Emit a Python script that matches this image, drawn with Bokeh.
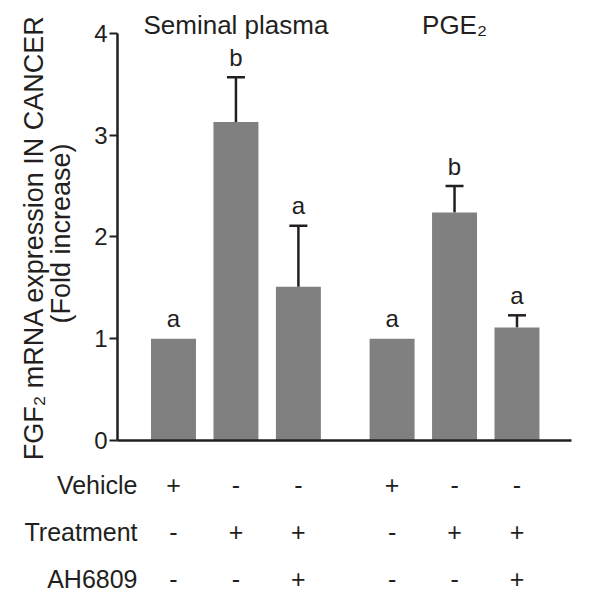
import math
from bokeh.plotting import figure
from bokeh.models import (Range1d, ColumnDataSource, Whisker, FixedTicker, TeeHead,
                          LinearAxis)
from bokeh.core.properties import value
from bokeh.embed import file_html
from bokeh.resources import INLINE

# ---------------- data ----------------
group_names = ["Seminal plasma", "PGE₂"]
row_names = ["Vehicle", "Treatment", "AH6809"]
bar_pos = [1, 2, 3, 4.5, 5.5, 6.5]
fold = [1.0, 3.13, 1.51, 1.0, 2.24, 1.11]
sem = [0.0, 0.44, 0.60, 0.0, 0.26, 0.12]
letters = ["a", "b", "a", "a", "b", "a"]
vehicle = ["+", "-", "-", "+", "-", "-"]
treatment = ["-", "+", "+", "-", "+", "+"]
ah6809 = ["-", "-", "+", "-", "-", "+"]
y_ticks = [0, 1, 2, 3, 4]
y_label_1 = "FGF₂ mRNA expression IN CANCER"
y_label_2 = "(Fold increase)"

# ---------------- layout / style ----------------
FONT = "Liberation Sans"
INK = "#231f20"
BAR = "#808080"
x_axis_span = (0.103, 7.373)
row_y = [-0.435, -0.897, -1.366]
row_label_x = 0.424
title_y = 4.088
letter_gap = 0.195
ylab_x = [-1.235, -0.80]
ylab_y = [1.995, 2.034]

p = figure(width=589, height=599, output_backend="svg", toolbar_location=None,
           x_range=Range1d(-1.770, 7.661), y_range=Range1d(-1.563, 4.324),
           x_axis_location=None, y_axis_location=None,
           min_border_left=0, min_border_right=0, min_border_top=0, min_border_bottom=0)
p.outline_line_color = None
p.xgrid.visible = False
p.ygrid.visible = False
p.background_fill_color = "white"
p.border_fill_color = "white"

# y axis at the left edge of the bars' region
yax = LinearAxis(fixed_location=x_axis_span[0])
yax.ticker = FixedTicker(ticks=y_ticks)
yax.bounds = (0, 4)
yax.axis_line_width = 2.5
yax.axis_line_color = INK
yax.major_tick_line_width = 2
yax.major_tick_line_color = INK
yax.major_tick_out = 8
yax.major_tick_in = 0
yax.minor_tick_line_color = None
yax.major_label_standoff = 2
yax.major_label_text_font = FONT
yax.major_label_text_font_size = "24px"
yax.major_label_text_color = INK
p.add_layout(yax, "left")

# x axis line at y = 0
xax = LinearAxis(fixed_location=0)
xax.ticker = FixedTicker(ticks=[])
xax.bounds = x_axis_span
xax.axis_line_width = 2.5
xax.axis_line_color = INK
xax.major_tick_line_color = None
xax.minor_tick_line_color = None
xax.major_label_text_font_size = "0px"
p.add_layout(xax, "below")

# bars
src = ColumnDataSource(dict(x=bar_pos, top=fold))
p.vbar(x="x", top="top", bottom=0, width=0.72, source=src,
       fill_color=BAR, line_color=None)

# error bars (upper only)
ex, elo, ehi = [], [], []
for x, f, s in zip(bar_pos, fold, sem):
    if s > 0:
        ex.append(x); elo.append(f); ehi.append(f + s)
esrc = ColumnDataSource(dict(base=ex, lower=elo, upper=ehi))
p.add_layout(Whisker(base="base", lower="lower", upper="upper", source=esrc,
                     line_color=INK, line_width=2.5, lower_head=None,
                     upper_head=TeeHead(size=18, line_color=INK, line_width=2.5)))

# significance letters
lsrc = ColumnDataSource(dict(x=bar_pos, y=[f + s + letter_gap for f, s in zip(fold, sem)], t=letters))
p.text(x="x", y="y", text="t", source=lsrc, text_align="center", text_baseline="middle",
       text_font=value(FONT), text_font_size="24px", text_color=INK)

# group titles
gx = [sum(bar_pos[0:3]) / 3, sum(bar_pos[3:6]) / 3]
gsrc = ColumnDataSource(dict(x=gx, y=[title_y, title_y], t=group_names))
p.text(x="x", y="y", text="t", source=gsrc, text_align="center", text_baseline="middle",
       text_font=value(FONT), text_font_size="26px", text_color=INK)

# treatment table
for ry, syms in zip(row_y, [vehicle, treatment, ah6809]):
    tsrc = ColumnDataSource(dict(x=bar_pos, y=[ry] * len(bar_pos), t=syms))
    p.text(x="x", y="y", text="t", source=tsrc, text_align="center", text_baseline="middle",
           text_font=value(FONT), text_font_size="25px", text_color=INK)
rsrc = ColumnDataSource(dict(x=[row_label_x] * len(row_names), y=row_y, t=row_names))
p.text(x="x", y="y", text="t", source=rsrc, text_align="right", text_baseline="middle",
       text_font=value(FONT), text_font_size="25px", text_color=INK)

# y-axis title (two lines)
ysrc = ColumnDataSource(dict(x=ylab_x, y=ylab_y, t=[y_label_1, y_label_2]))
p.text(x="x", y="y", text="t", source=ysrc, angle=math.pi / 2, text_align="center",
       text_baseline="middle", text_font=value(FONT), text_font_size="27px", text_color=INK)

open("out.html", "w").write(file_html(p, INLINE))
